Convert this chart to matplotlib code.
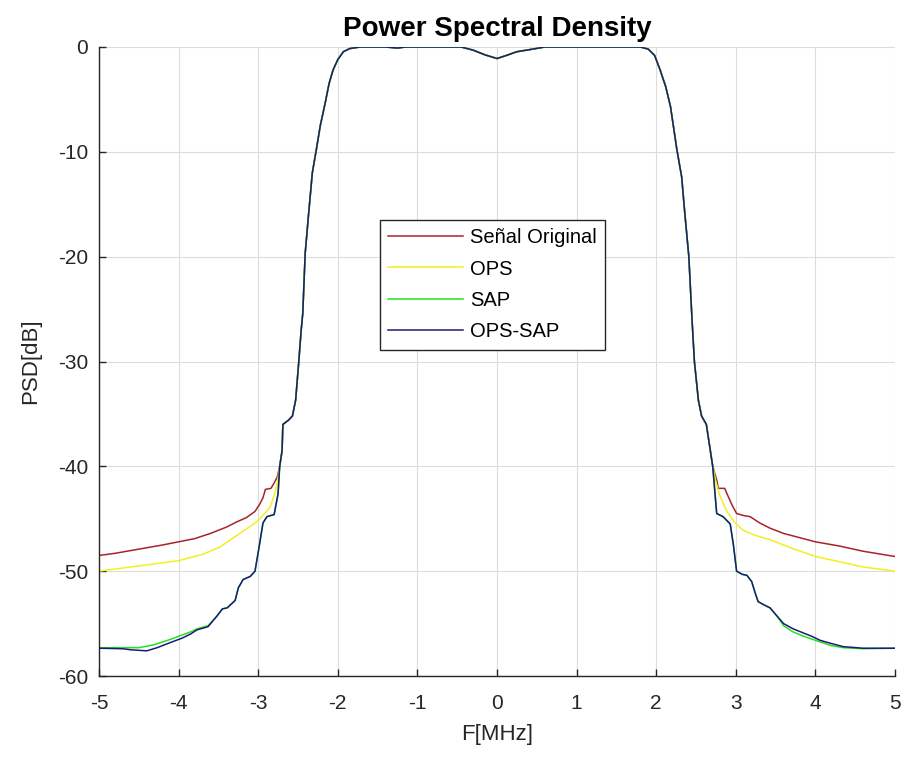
import matplotlib
matplotlib.use("Agg")
import matplotlib.pyplot as plt
import numpy as np

plt.rcParams['font.family'] = ['Liberation Sans', 'DejaVu Sans']

# Shared main lobe (all four series coincide here)
core_x = [-2.73, -2.70, -2.69, -2.62, -2.57, -2.53, -2.49, -2.46, -2.44, -2.41, -2.37,
          -2.32, -2.27, -2.22, -2.16, -2.11, -2.06, -2.00, -1.93, -1.85, -1.72, -1.40,
          -1.25, -1.15, -0.45, -0.30, -0.15, 0.00, 0.12, 0.25, 0.45, 0.60, 1.80, 1.90,
          1.98, 2.05, 2.12, 2.18, 2.26, 2.32, 2.36, 2.41, 2.45, 2.48, 2.53, 2.57, 2.63,
          2.67, 2.71]
core_y = [-40.0, -38.5, -36.0, -35.6, -35.2, -33.7, -30.0, -27.0, -25.4, -19.7, -16.2,
          -12.0, -9.8, -7.5, -5.4, -3.5, -2.2, -1.2, -0.45, -0.15, 0.0, 0.0,
          -0.1, 0.0, 0.0, -0.3, -0.75, -1.1, -0.8, -0.45, -0.2, 0.0, 0.0, -0.2,
          -0.8, -2.2, -3.8, -5.7, -9.8, -12.4, -15.9, -20.0, -26.0, -30.0, -33.7, -35.2, -36.0,
          -38.0, -40.0]

# Señal Original tails
orig_lx = [-5.0, -4.8, -4.5, -4.2, -4.0, -3.8, -3.6, -3.4, -3.27, -3.15, -3.04, -2.98,
           -2.94, -2.91, -2.84, -2.80, -2.76]
orig_ly = [-48.5, -48.3, -47.9, -47.5, -47.2, -46.9, -46.4, -45.8, -45.3, -44.9, -44.3, -43.6,
           -43.0, -42.2, -42.1, -41.6, -41.0]
orig_rx = [2.76, 2.78, 2.86, 2.90, 2.96, 3.01, 3.10, 3.18, 3.30, 3.43, 3.60, 3.80, 4.00,
           4.30, 4.60, 5.00]
orig_ry = [-41.3, -42.1, -42.1, -42.8, -43.8, -44.5, -44.7, -44.8, -45.4, -45.9, -46.4, -46.8,
           -47.2, -47.6, -48.1, -48.6]

# OPS tails
ops_lx = [-5.0, -4.7, -4.4, -4.0, -3.7, -3.48, -3.23, -3.02, -2.93, -2.85, -2.80, -2.76]
ops_ly = [-50.0, -49.7, -49.4, -49.0, -48.4, -47.7, -46.4, -45.3, -44.6, -43.9, -42.8, -41.6]
ops_rx = [2.75, 2.80, 2.88, 2.98, 3.09, 3.25, 3.43, 3.70, 4.00, 4.30, 4.60, 5.00]
ops_ry = [-41.5, -42.8, -44.2, -45.3, -46.1, -46.6, -47.0, -47.8, -48.6, -49.1, -49.6, -50.0]

# SAP tails
sap_lx = [-5.0, -4.7, -4.5, -4.3, -4.1, -3.96, -3.85, -3.77, -3.63, -3.52, -3.45, -3.39,
          -3.29, -3.25, -3.19, -3.10, -3.04, -2.98, -2.94, -2.89, -2.80, -2.75]
sap_ly = [-57.3, -57.3, -57.3, -57.0, -56.5, -56.1, -55.8, -55.5, -55.2, -54.3, -53.6, -53.5,
          -52.8, -51.6, -50.8, -50.5, -50.0, -47.3, -45.4, -44.8, -44.6, -42.6]
sap_rx = [2.76, 2.84, 2.93, 2.97, 3.01, 3.08, 3.14, 3.20, 3.24, 3.28, 3.35, 3.43, 3.52,
          3.60, 3.72, 3.85, 4.00, 4.20, 4.35, 4.60, 5.00]
sap_ry = [-44.5, -44.8, -45.5, -47.5, -50.0, -50.3, -50.4, -51.0, -52.0, -52.9, -53.2, -53.5,
          -54.3, -55.2, -55.8, -56.2, -56.6, -57.1, -57.3, -57.4, -57.35]

# OPS-SAP tails
opssap_lx = [-5.0, -4.7, -4.6, -4.4, -4.27, -4.1, -3.96, -3.85, -3.77, -3.63, -3.52, -3.45,
             -3.39, -3.29, -3.25, -3.19, -3.10, -3.04, -2.98, -2.94, -2.89, -2.80, -2.75]
opssap_ly = [-57.35, -57.4, -57.5, -57.6, -57.3, -56.8, -56.4, -56.0, -55.6, -55.3, -54.3, -53.6,
             -53.5, -52.8, -51.6, -50.8, -50.5, -50.0, -47.3, -45.4, -44.8, -44.6, -42.6]
opssap_rx = [2.76, 2.84, 2.93, 2.97, 3.01, 3.08, 3.14, 3.20, 3.24, 3.28, 3.35, 3.43, 3.52,
             3.60, 3.72, 3.85, 3.95, 4.06, 4.20, 4.35, 4.60, 5.00]
opssap_ry = [-44.5, -44.8, -45.5, -47.5, -50.0, -50.3, -50.4, -51.0, -52.0, -52.9, -53.2, -53.5,
             -54.3, -55.0, -55.5, -55.9, -56.2, -56.6, -56.9, -57.2, -57.35, -57.35]

labels = ['Señal Original', 'OPS', 'SAP', 'OPS-SAP']
colors = ['#a8242c', '#f2f020', '#22e022', '#1c1c78']
x_ticks = [-5, -4, -3, -2, -1, 0, 1, 2, 3, 4, 5]
y_ticks = [-60, -50, -40, -30, -20, -10, 0]

series = [
    (orig_lx, orig_ly, orig_rx, orig_ry),
    (ops_lx, ops_ly, ops_rx, ops_ry),
    (sap_lx, sap_ly, sap_rx, sap_ry),
    (opssap_lx, opssap_ly, opssap_rx, opssap_ry),
]

fig = plt.figure(figsize=(9.06, 7.57), dpi=100)
ax = fig.add_axes([99/906, 1-676/757, (895-99)/906, (676-47)/757])

for (lx, ly, rx, ry), lab, col in zip(series, labels, colors):
    xs = list(lx) + list(core_x) + list(rx)
    ys = list(ly) + list(core_y) + list(ry)
    ax.plot(xs, ys, color=col, lw=1.1, label=lab)

ax.set_xlim(-5, 5)
ax.set_ylim(-60, 0)
ax.set_xticks(x_ticks)
ax.set_yticks(y_ticks)
ax.set_xticklabels([str(v) for v in x_ticks])
ax.set_yticklabels([str(v) for v in y_ticks])
ax.grid(True, color='#dcdcdc', lw=0.8)
ax.set_axisbelow(True)
for s in ['top', 'right']:
    ax.spines[s].set_visible(False)
for s in ['left', 'bottom']:
    ax.spines[s].set_color('#262626')
    ax.spines[s].set_linewidth(1.0)
ax.tick_params(direction='in', length=5, width=1.0, colors='#262626', labelsize=15)
ax.tick_params(axis='x', pad=13)
ax.tick_params(axis='y', pad=8)
ax.set_xlabel('F[MHz]', fontsize=16, color='#262626', labelpad=8)
ax.set_ylabel('PSD[dB]', fontsize=16, color='#262626', labelpad=12)
ax.set_title('Power Spectral Density', fontsize=20, fontweight='bold', pad=8)

leg = ax.legend(loc='upper left', bbox_to_anchor=(0.353, 0.725), borderaxespad=0,
                fontsize=14.5, handlelength=3.7, handletextpad=0.36, labelspacing=0.62,
                fancybox=False, framealpha=1, edgecolor='#262626', borderpad=0.4)
leg.get_frame().set_linewidth(1.0)

fig.savefig('out.png', dpi=100)
